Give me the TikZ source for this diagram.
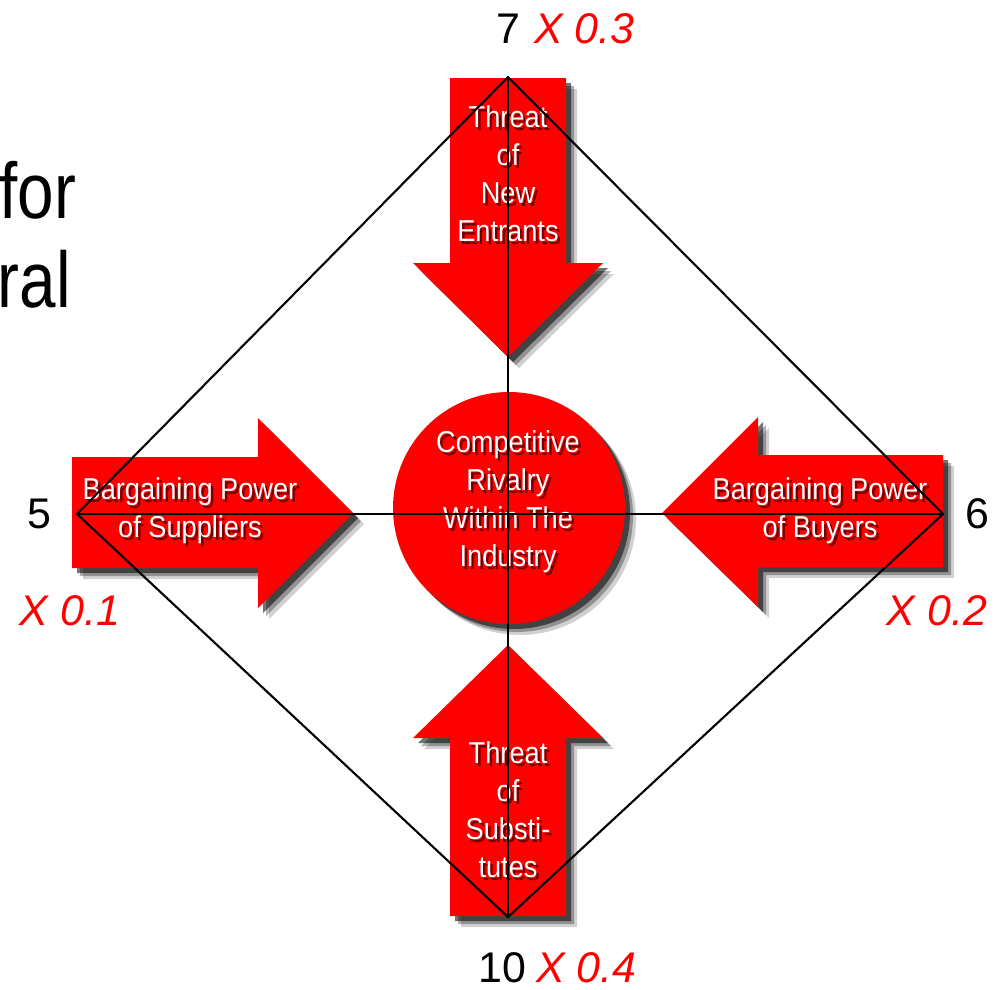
\documentclass[tikz,border=0pt]{standalone}
\usepackage{fontspec}
\setmainfont{Liberation Sans}
\newfontfamily\narrowsans[FakeStretch=0.9]{Liberation Sans}
\newfontfamily\slidesans[FakeStretch=0.83]{Liberation Sans}
\usetikzlibrary{positioning,shadows}
\definecolor{forcered}{RGB}{255,0,0}
\definecolor{textshade}{RGB}{115,0,0}
\definecolor{labelred}{RGB}{255,0,0}

\begin{document}
\begin{tikzpicture}[x=0.1mm, y=-0.1mm,
	force/.style={fill=forcered,
		drop shadow={shadow xshift=1.1mm, shadow yshift=-1.1mm, opacity=0.18, fill=black},
		drop shadow={shadow xshift=0.8mm, shadow yshift=-0.8mm, opacity=0.3, fill=black},
		drop shadow={shadow xshift=0.5mm, shadow yshift=-0.5mm, opacity=0.55, fill=black}},
	forcetext/.style={text=white, inner sep=0, align=center, font=\narrowsans\fontsize{8.6pt}{10.8pt}\selectfont},
	forceshade/.style={forcetext, text=textshade, xshift=0.25mm, yshift=-0.25mm},
	frame/.style={black, line width=0.6pt},
	score/.style={inner sep=0, font=\fontsize{12.2pt}{14pt}\selectfont},
	weight/.style={inner sep=0, text=labelred, font=\itshape\fontsize{12.2pt}{14pt}\selectfont},
	slide/.style={inner sep=0, anchor=base west, font=\slidesans\fontsize{22.5pt}{25pt}\selectfont}]
	\useasboundingbox (0,0) rectangle (1004,989);

	% text of the slide, cut off at the left
	\node[slide] (for) at (-1,218) {for};
	\node[slide] (ral) at (-3,307) {ral};

	% threat of new entrants
	\fill[force] (450,78) -- (566,78) -- (566,263) -- (603,263) -- (508,357) -- (413,263) -- (450,263) -- cycle;
	\node[forceshade] (entrants-s) at (508,174) {Threat\\of\\New\\Entrants};
	\node[forcetext] (entrants) at (508,174) {Threat\\of\\New\\Entrants};

	% threat of substitutes
	\fill[force] (508,645) -- (603,738) -- (566,738) -- (566,916) -- (450,916) -- (450,738) -- (413,738) -- cycle;
	\node[forceshade] (substitutes-s) at (508,810) {Threat\\of\\Substi-\\tutes};
	\node[forcetext] (substitutes) at (508,810) {Threat\\of\\Substi-\\tutes};

	% bargaining power of suppliers
	\fill[force] (72,457) -- (258,457) -- (258,418) -- (353,513) -- (258,608) -- (258,568) -- (72,568) -- cycle;
	\node[forceshade] (suppliers-s) at (190,511) {Bargaining Power\\of Suppliers};
	\node[forcetext] (suppliers) at (190,511) {Bargaining Power\\of Suppliers};

	% bargaining power of buyers
	\fill[force] (943,455) -- (758,455) -- (758,417) -- (662,513) -- (758,607) -- (758,567) -- (943,567) -- cycle;
	\node[forceshade] (buyers-s) at (820,511) {Bargaining Power\\of Buyers};
	\node[forcetext] (buyers) at (820,511) {Bargaining Power\\of Buyers};

	% competitive rivalry
	\node[force, circle, minimum size=23.2mm, inner sep=0] (rivalry) at (509,508) {};
	\node[forceshade] (rivalry-s) at (508,502) {Competitive\\Rivalry\\Within The\\Industry};
	\node[forcetext] (rivalry-t) at (508,502) {Competitive\\Rivalry\\Within The\\Industry};

	% diamond of the scores
	\coordinate (top) at (508,77);
	\coordinate (left) at (77,514);
	\coordinate (right) at (943,514);
	\coordinate (bottom) at (508,917);
	\draw[frame] (top) -- (right) -- (bottom) -- (left) -- cycle;
	\draw[frame] (top) -- (bottom);
	\draw[frame] (left) -- (right);

	% scores and weights
	\node[score, anchor=base] (n7) at (508,43) {7};
	\node[weight, base right=1.3mm of n7] (w7) {X 0.3};
	\node[score, anchor=base] (n10) at (502,982) {10};
	\node[weight, base right=0.9mm of n10] (w10) {X 0.4};
	\node[score, anchor=base] (n5) at (39,528) {5};
	\node[weight, anchor=base] (w5) at (70,625) {X 0.1};
	\node[score, anchor=base] (n6) at (977,528) {6};
	\node[weight, anchor=base] (w6) at (937,625) {X 0.2};
\end{tikzpicture}
\end{document}
